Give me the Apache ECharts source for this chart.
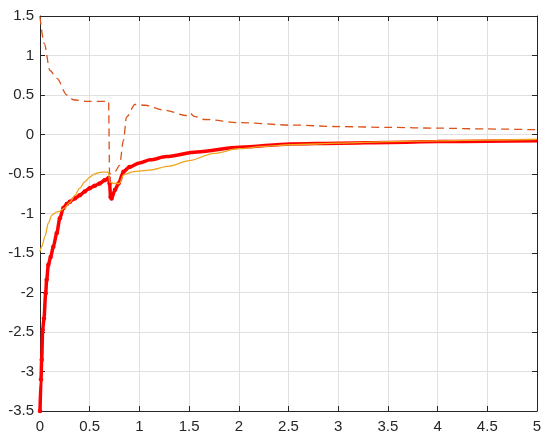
<!DOCTYPE html>
<html>
<head>
<meta charset="utf-8">
<script src="https://cdn.jsdelivr.net/npm/echarts@6/dist/echarts.min.js"></script>
<style>
  html, body { margin: 0; padding: 0; background: #fff; }
  #main { width: 550px; height: 441px; }
</style>
</head>
<body>
<div id="main"></div>
<script>
// dashed curve
var dashX = [0, 0.043, 0.10, 0.17, 0.27, 0.335, 0.47, 0.67, 0.69, 0.70, 0.755, 0.80, 0.84, 0.87, 0.955, 1.06, 1.24, 1.48, 1.51, 1.55, 1.66, 2.01, 2.52, 3.02, 3.52, 4.0, 4.5, 5.0];
var dashY = [1.49, 1.15, 0.81, 0.71, 0.50, 0.44, 0.42, 0.42, 0.42, -0.50, -0.47, -0.39, -0.07, 0.22, 0.38, 0.37, 0.31, 0.24, 0.27, 0.23, 0.19, 0.15, 0.12, 0.10, 0.09, 0.08, 0.07, 0.06];

// thick red curve with dots
var redX = [0, 0.01, 0.017, 0.027, 0.04, 0.057, 0.067, 0.084, 0.107, 0.134, 0.168, 0.20, 0.235, 0.27, 0.30, 0.35, 0.40, 0.45, 0.50, 0.55, 0.60, 0.65, 0.69, 0.70, 0.71, 0.72, 0.755, 0.79, 0.84, 0.90, 1.0, 1.11, 1.27, 1.58, 2.01, 2.52, 3.02, 3.52, 4.0, 4.5, 5.0];
var redY = [-3.5, -3.1, -2.85, -2.47, -2.33, -2.01, -1.84, -1.65, -1.55, -1.42, -1.25, -1.06, -0.93, -0.88, -0.85, -0.81, -0.77, -0.72, -0.68, -0.65, -0.62, -0.58, -0.55, -0.62, -0.79, -0.81, -0.70, -0.62, -0.47, -0.41, -0.36, -0.32, -0.28, -0.22, -0.16, -0.12, -0.11, -0.10, -0.09, -0.085, -0.08];

// thin yellow curve
var yelX = [0, 0.017, 0.05, 0.084, 0.12, 0.17, 0.20, 0.25, 0.30, 0.35, 0.40, 0.45, 0.50, 0.55, 0.60, 0.67, 0.69, 0.70, 0.74, 0.80, 0.84, 0.94, 1.1, 1.3, 1.5, 1.75, 2.0, 2.25, 2.52, 3.02, 3.52, 4.0, 4.5, 5.0];
var yelY = [-1.48, -1.42, -1.29, -1.12, -1.02, -0.98, -0.97, -0.93, -0.86, -0.77, -0.68, -0.60, -0.54, -0.50, -0.48, -0.475, -0.48, -0.60, -0.62, -0.62, -0.51, -0.47, -0.45, -0.40, -0.33, -0.24, -0.18, -0.15, -0.13, -0.11, -0.09, -0.08, -0.07, -0.06];

function pairs(xs, ys) {
  var out = [];
  for (var i = 0; i < xs.length; i++) out.push([xs[i], ys[i]]);
  return out;
}

var axisColor = "#262626";
var font = "Liberation Sans, Arial, sans-serif";

var myChart = echarts.init(document.getElementById("main"));
var option = {
  animation: false,
  grid: { left: 40, right: 13, top: 16, bottom: 30 },
  xAxis: [
    {
      type: "value", min: 0, max: 5, interval: 0.5,
      axisLine: { onZero: false, lineStyle: { color: axisColor, width: 1 } },
      axisTick: { inside: true, length: 5, lineStyle: { color: axisColor } },
      axisLabel: { color: axisColor, fontSize: 15, fontFamily: font, margin: 8 },
      splitLine: { show: true, lineStyle: { color: "#e0e0e0", width: 1 } }
    },
    {
      type: "value", min: 0, max: 5, interval: 0.5, position: "top",
      axisLine: { onZero: false, lineStyle: { color: axisColor, width: 1 } },
      axisTick: { inside: true, length: 5, lineStyle: { color: axisColor } },
      axisLabel: { show: false },
      splitLine: { show: false }
    }
  ],
  yAxis: [
    {
      type: "value", min: -3.5, max: 1.5, interval: 0.5,
      axisLine: { show: true, onZero: false, lineStyle: { color: axisColor, width: 1 } },
      axisTick: { show: true, inside: true, length: 5, lineStyle: { color: axisColor } },
      axisLabel: { color: axisColor, fontSize: 15, fontFamily: font, margin: 6 },
      splitLine: { show: true, lineStyle: { color: "#e0e0e0", width: 1 } }
    },
    {
      type: "value", min: -3.5, max: 1.5, interval: 0.5, position: "right",
      axisLine: { show: true, onZero: false, lineStyle: { color: axisColor, width: 1 } },
      axisTick: { show: true, inside: true, length: 5, lineStyle: { color: axisColor } },
      axisLabel: { show: false },
      splitLine: { show: false }
    }
  ],
  series: [
    {
      type: "line",
      data: pairs(dashX, dashY),
      showSymbol: false,
      smooth: 0.3,
      smoothMonotone: "x",
      lineStyle: { color: "#D95319", width: 1.3, type: [8, 5] },
      z: 2
    },
    {
      type: "line",
      data: pairs(yelX, yelY),
      showSymbol: false,
      smooth: 0.3,
      smoothMonotone: "x",
      lineStyle: { color: "#EDA51E", width: 1.3 },
      z: 4
    },
    {
      type: "line",
      data: pairs(redX, redY),
      symbol: "circle",
      // dots only visible on the steep part, further on they merge into a thick line
      symbolSize: function (v) { return v[0] < 0.95 ? 4.5 : 0; },
      showAllSymbol: true,
      smooth: 0.3,
      smoothMonotone: "x",
      itemStyle: { color: "#FF0000" },
      lineStyle: { color: "#FF0000", width: 3.5 },
      z: 3
    }
  ]
};

option && myChart.setOption(option);
</script>
</body>
</html>
